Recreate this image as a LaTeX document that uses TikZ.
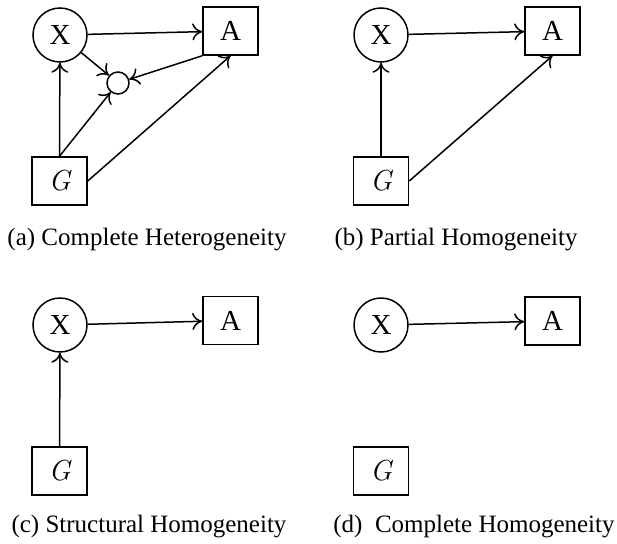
\documentclass[tikz,border=0pt]{standalone}
\usepackage{fontspec}
\setmainfont{Liberation Serif}
\newfontfamily\lmfont{Latin Modern Roman}
\usetikzlibrary{arrows.meta}
\tikzset{
  var/.style={draw,circle,minimum size=54pt,inner sep=0pt,font=\fontsize{29}{32}\selectfont},
  obs/.style={draw,rectangle,minimum width=55pt,minimum height=48pt,inner sep=0pt,font=\fontsize{29}{32}\selectfont},
  dot/.style={draw,circle,minimum size=22pt,inner sep=0pt},
  lbl/.style={font=\fontsize{25}{30}\selectfont},
}
\newcommand{\gvar}{{\lmfont\itshape G}}
\begin{document}
\begin{tikzpicture}[x=1pt,y=-1pt,line width=1.5pt,
    >={Computer Modern Rightarrow[length=10pt,width=17pt]}]
  \useasboundingbox (0,0) rectangle (617,543);
  % (a)
  \draw
    (60,35) node[var] (xa){X}
    (230.5,31) node[obs] (aa){A}
    (59.5,181) node[obs] (ga){\gvar}
    (118,83) node[dot] (oa){}
    (147,240) node[lbl] (ca){(a) Complete Heterogeneity};
  \begin{scope}[->]
    \draw (xa) to (aa);
    \draw (xa) to (oa);
    \draw (aa.south west) to (oa);
    \draw (ga.north) to (xa);
    \draw (ga.north) to (oa);
    \draw (ga.east) to (aa.south);
  \end{scope}
  % (b)
  \draw
    (381,35) node[var] (xb){X}
    (552.5,31) node[obs] (ab){A}
    (381,181) node[obs] (gb){\gvar}
    (456,240) node[lbl] (cb){(b) Partial Homogeneity};
  \begin{scope}[->]
    \draw (xb) to (ab);
    \draw (gb) to (xb);
    \draw (gb.east) to (ab.south);
  \end{scope}
  % (c)
  \draw
    (60,325) node[var] (xc){X}
    (230.5,320.5) node[obs] (ac){A}
    (59.5,471) node[obs] (gc){\gvar}
    (149,527) node[lbl] (cc){(c) Structural Homogeneity};
  \begin{scope}[->]
    \draw (xc) to (ac);
    \draw (gc) to (xc);
  \end{scope}
  % (d)
  \draw
    (381,325) node[var] (xd){X}
    (552.5,321) node[obs] (ad){A}
    (381,471) node[obs] (gd){\gvar}
    (474,527) node[lbl] (cd){(d)~ Complete Homogeneity};
  \begin{scope}[->]
    \draw (xd) to (ad);
  \end{scope}
\end{tikzpicture}
\end{document}
